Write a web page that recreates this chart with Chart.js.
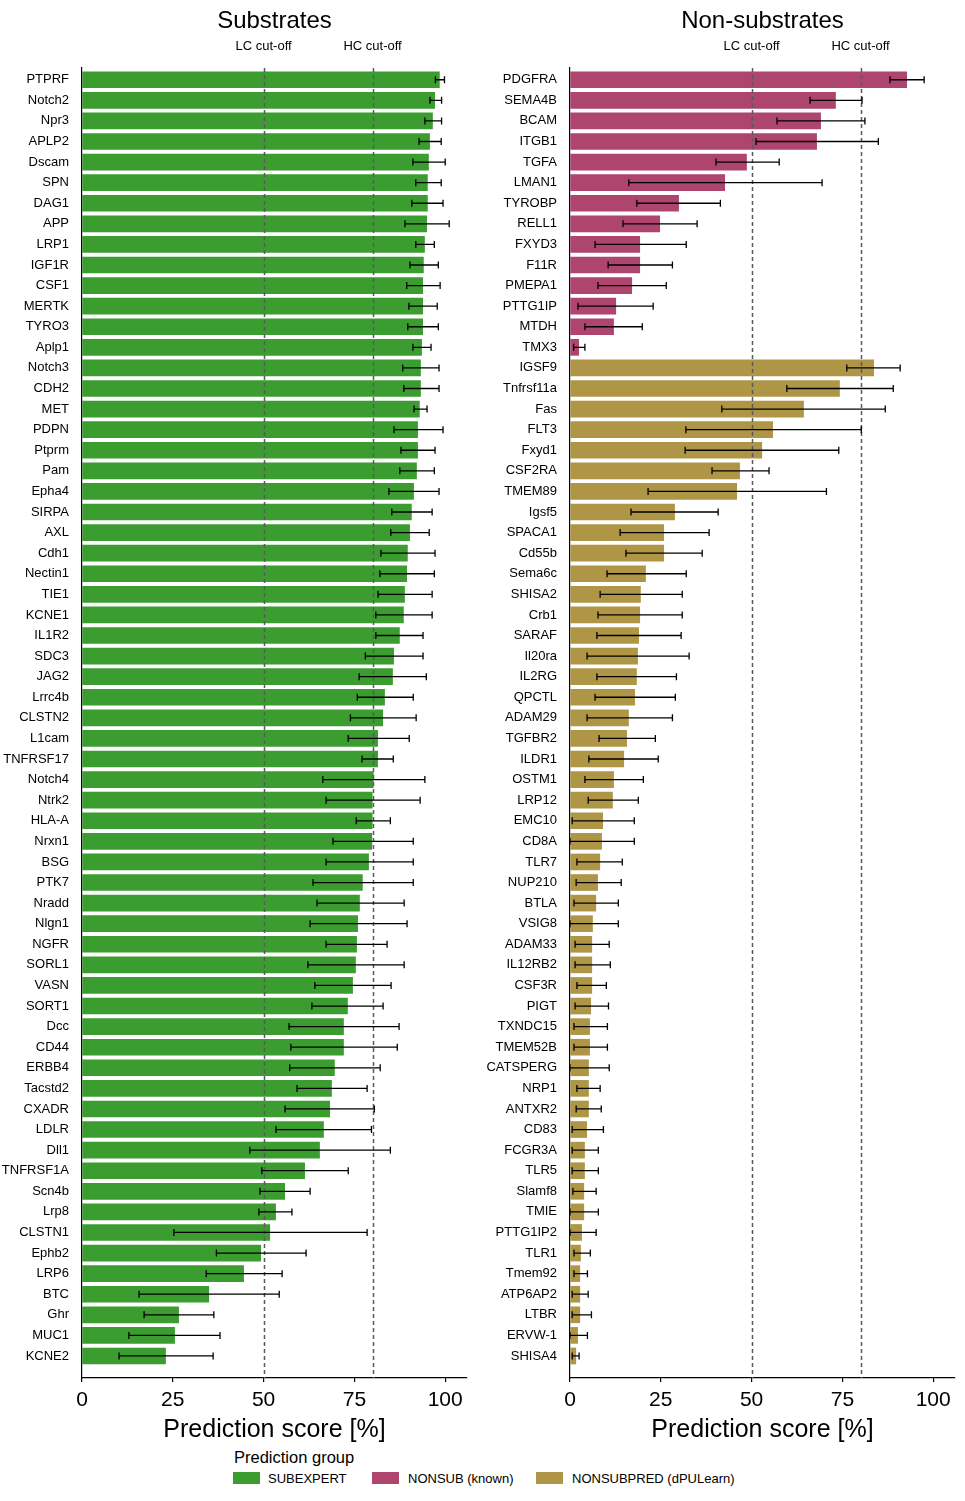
<!DOCTYPE html>
<html>
<head>
<meta charset="utf-8">
<script src="https://cdn.jsdelivr.net/npm/chart.js@4.4.1/dist/chart.umd.min.js"></script>
<style>
  html, body { margin: 0; padding: 0; background: #ffffff; }
  body { width: 965px; height: 1501px; position: relative; overflow: hidden;
         font-family: "Liberation Sans", Arial, sans-serif; color: #000; }
  canvas { position: absolute; top: 0; }
  #c1 { left: 0; }
  #c2 { left: 482px; }
  .lg { position: absolute; white-space: nowrap; line-height: 1; }
  .lgTitle { font-size: 16.5px; }
  .lgText { font-size: 13px; }
  .lgBox { position: absolute; width: 27px; height: 12px; }
</style>
</head>
<body>
<canvas id="c1" width="482" height="1446"></canvas>
<canvas id="c2" width="483" height="1446"></canvas>
<div id="legend"></div>
<script>
// ---------------- DATA ----------------
const subNames = ["PTPRF","Notch2","Npr3","APLP2","Dscam","SPN","DAG1","APP","LRP1","IGF1R",
  "CSF1","MERTK","TYRO3","Aplp1","Notch3","CDH2","MET","PDPN","Ptprm","Pam",
  "Epha4","SIRPA","AXL","Cdh1","Nectin1","TIE1","KCNE1","IL1R2","SDC3","JAG2",
  "Lrrc4b","CLSTN2","L1cam","TNFRSF17","Notch4","Ntrk2","HLA-A","Nrxn1","BSG","PTK7",
  "Nradd","Nlgn1","NGFR","SORL1","VASN","SORT1","Dcc","CD44","ERBB4","Tacstd2",
  "CXADR","LDLR","Dll1","TNFRSF1A","Scn4b","Lrp8","CLSTN1","Ephb2","LRP6","BTC",
  "Ghr","MUC1","KCNE2"];
const subScores = [98.4,97.1,96.5,95.7,95.4,95.1,95.1,94.9,94.3,94.0,
  93.8,93.8,93.8,93.5,93.2,93.2,92.9,92.4,92.4,92.1,
  91.3,90.7,90.2,89.6,89.4,88.8,88.5,87.4,85.8,85.5,
  83.3,82.8,81.4,81.4,80.2,79.9,79.9,79.8,78.9,77.2,
  76.4,75.9,75.6,75.3,74.5,73.1,72.0,72.0,69.5,68.7,
  68.2,66.5,65.4,61.3,55.8,53.3,51.7,49.2,44.5,34.9,
  26.6,25.5,23.0];
const subLow = [97.3,95.8,94.4,92.8,91.1,91.9,90.8,88.9,91.9,90.3,
  89.4,90.0,89.7,91.1,88.3,88.6,91.4,85.9,87.8,87.5,
  84.5,85.3,85.0,82.3,82.0,81.5,80.9,80.9,78.0,76.3,
  75.8,73.9,73.3,77.1,66.3,67.2,75.5,69.1,67.2,63.6,
  64.7,62.8,67.2,62.2,64.1,63.3,57.0,57.5,57.2,59.2,
  55.9,53.4,46.2,49.5,49.0,48.7,25.3,37.0,34.2,15.7,
  17.1,12.9,10.2];
const subHigh = [99.8,99.0,99.0,98.9,100.0,98.9,99.4,101.1,97.0,98.1,
  98.6,97.8,98.1,96.1,98.3,98.3,95.0,99.4,97.2,97.0,
  98.3,96.4,95.6,97.2,97.0,96.4,96.4,93.9,93.9,94.8,
  91.2,92.0,90.1,85.7,94.4,93.1,84.9,91.2,91.2,91.2,
  88.7,89.5,84.0,88.7,85.1,82.9,87.3,86.8,82.1,78.5,
  80.5,79.7,84.9,73.3,62.8,57.8,78.5,61.7,55.1,54.3,
  36.3,38.0,36.1];

const nonNames = ["PDGFRA","SEMA4B","BCAM","ITGB1","TGFA","LMAN1","TYROBP","RELL1","FXYD3","F11R",
  "PMEPA1","PTTG1IP","MTDH","TMX3","IGSF9","Tnfrsf11a","Fas","FLT3","Fxyd1","CSF2RA",
  "TMEM89","Igsf5","SPACA1","Cd55b","Sema6c","SHISA2","Crb1","SARAF","Il20ra","IL2RG",
  "QPCTL","ADAM29","TGFBR2","ILDR1","OSTM1","LRP12","EMC10","CD8A","TLR7","NUP210",
  "BTLA","VSIG8","ADAM33","IL12RB2","CSF3R","PIGT","TXNDC15","TMEM52B","CATSPERG","NRP1",
  "ANTXR2","CD83","FCGR3A","TLR5","Slamf8","TMIE","PTTG1IP2","TLR1","Tmem92","ATP6AP2",
  "LTBR","ERVW-1","SHISA4"];
const nonGroups = ["known","known","known","known","known","known","known","known","known","known",
  "known","known","known","known","pred","pred","pred","pred","pred","pred",
  "pred","pred","pred","pred","pred","pred","pred","pred","pred","pred",
  "pred","pred","pred","pred","pred","pred","pred","pred","pred","pred",
  "pred","pred","pred","pred","pred","pred","pred","pred","pred","pred",
  "pred","pred","pred","pred","pred","pred","pred","pred","pred","pred",
  "pred","pred","pred"];
const nonScores = [92.7,73.1,69.0,67.9,48.6,42.6,29.9,24.7,19.2,19.2,
  17.0,12.6,12.0,2.4,83.6,74.2,64.3,55.8,52.8,46.7,
  45.9,28.8,25.8,25.8,20.8,19.4,19.2,18.9,18.6,18.3,
  17.8,16.1,15.6,14.8,12.0,11.7,9.0,8.7,8.2,7.6,
  7.1,6.2,6.0,6.0,6.0,5.7,5.4,5.4,5.1,5.1,
  5.1,4.6,4.0,4.0,3.8,3.8,3.2,2.9,2.7,2.7,
  2.7,2.1,1.6];
const nonLow = [88.1,66.1,57.0,51.2,40.2,16.2,18.4,14.6,6.9,10.5,
  7.7,2.2,4.1,1.0,76.2,59.7,41.8,31.9,31.7,39.1,
  21.5,16.8,13.8,15.4,10.2,8.3,7.7,7.4,4.7,7.4,
  6.9,4.7,8.0,5.2,4.1,5.0,0.6,0.0,1.9,1.7,
  1.1,0.0,1.4,1.4,1.9,1.4,1.1,1.1,0.0,1.9,
  1.7,0.6,0.6,0.6,0.8,0.0,0.0,1.1,1.1,0.6,
  0.6,0.0,0.6];
const nonHigh = [97.5,80.4,81.2,84.9,57.6,69.4,41.4,35.0,32.0,28.2,
  26.5,22.9,19.9,4.1,90.9,89.0,86.8,80.2,74.0,54.8,
  70.6,40.8,38.3,36.4,32.0,30.9,30.9,30.6,32.8,29.3,
  29.0,28.2,23.5,24.3,20.2,18.8,17.7,17.7,14.4,14.1,
  13.3,13.3,10.8,11.1,10.0,10.6,10.3,10.3,10.8,8.3,
  8.6,9.2,7.8,7.8,7.2,7.8,7.2,5.6,4.8,5.0,
  5.9,4.8,2.5];

const xTickValues = [0, 25, 50, 75, 100];
const cutoffValues = [50, 80];
const cutoffLabels = ["LC cut-off", "HC cut-off"];
const groupLabels = { sub: "SUBEXPERT", known: "NONSUB (known)", pred: "NONSUBPRED (dPULearn)" };

// ---------------- STYLE ----------------
const FONT = '"Liberation Sans", Arial, sans-serif';
const groupColors = { sub: "#3b9c30", known: "#ad456f", pred: "#ae9646" };
Chart.defaults.font.family = FONT;
Chart.defaults.color = "#000";

const panelPlugin = {
  id: "panel",
  afterDatasetsDraw(chart) {
    const { ctx, chartArea: a, scales: { x, y } } = chart;
    ctx.save();
    // dashed cut-off lines
    ctx.strokeStyle = "#5a5a5a";
    ctx.lineWidth = 1.5;
    ctx.setLineDash([4, 3]);
    cutoffValues.forEach(v => {
      const px = Math.round(x.getPixelForValue(v)) + 0.5;
      ctx.beginPath(); ctx.moveTo(px, a.top); ctx.lineTo(px, a.bottom); ctx.stroke();
    });
    ctx.setLineDash([]);
    // error bars
    const ds = chart.data.datasets[0];
    ctx.strokeStyle = "#000";
    ctx.lineWidth = 1.3;
    ds.errLow.forEach((lo, i) => {
      const hi = ds.errHigh[i];
      const py = y.getPixelForValue(i);
      const x0 = x.getPixelForValue(lo), x1 = x.getPixelForValue(hi);
      ctx.beginPath();
      ctx.moveTo(x0, py); ctx.lineTo(x1, py);
      ctx.moveTo(x0, py - 3.5); ctx.lineTo(x0, py + 3.5);
      ctx.moveTo(x1, py - 3.5); ctx.lineTo(x1, py + 3.5);
      ctx.stroke();
    });
    ctx.restore();
  },
  afterDraw(chart, args, opts) {
    const { ctx, chartArea: a, scales: { x } } = chart;
    ctx.save();
    ctx.fillStyle = "#000";
    ctx.textAlign = "center";
    ctx.textBaseline = "alphabetic";
    ctx.font = "24px " + FONT;
    ctx.fillText(opts.title, (a.left + a.right) / 2, 28);
    ctx.font = "13px " + FONT;
    cutoffValues.forEach((v, i) => {
      ctx.fillText(cutoffLabels[i], x.getPixelForValue(v), 49.5);
    });
    ctx.restore();
  }
};

function makePanel(canvasId, title, names, scores, lows, highs, colors, axisWidth, padRight) {
  return new Chart(document.getElementById(canvasId), {
    type: "bar",
    plugins: [panelPlugin],
    data: {
      datasets: [{
        data: scores.map((v, i) => ({ x: v, y: i })),
        backgroundColor: colors,
        borderWidth: 0,
        barThickness: 16,
        errLow: lows,
        errHigh: highs
      }]
    },
    options: {
      indexAxis: "y",
      responsive: false,
      animation: false,
      devicePixelRatio: 1,
      layout: { padding: { top: 68, right: padRight, left: 0, bottom: 0 } },
      plugins: { legend: { display: false }, tooltip: { enabled: false }, panel: { title: title } },
      scales: {
        x: {
          type: "linear", min: 0, max: 106, bounds: "data", offset: false,
          afterBuildTicks: s => { s.ticks = xTickValues.map(v => ({ value: v })); },
          afterFit: s => { s.height = 68; },
          grid: { display: true, drawOnChartArea: false, drawTicks: true, tickLength: 4, color: "#000", lineWidth: 1.2 },
          border: { display: true, color: "#000", width: 1.2 },
          ticks: { font: { size: 21 }, color: "#000", padding: 6, maxRotation: 0 },
          title: { display: true, text: "Prediction score [%]", font: { size: 25 }, color: "#000", padding: { top: 0, bottom: 1 } }
        },
        y: {
          type: "linear", reverse: true, bounds: "data", offset: false,
          min: -0.57, max: names.length - 1 + 1.07,
          afterBuildTicks: s => { s.ticks = names.map((_, i) => ({ value: i })); },
          afterFit: s => { s.width = axisWidth; },
          grid: { display: false, offset: false },
          border: { display: true, color: "#000", width: 1.2 },
          ticks: { font: { size: 13 }, color: "#000", padding: 5, autoSkip: false,
                   callback: v => names[v] }
        }
      }
    }
  });
}

makePanel("c1", "Substrates", subNames, subScores, subLow, subHigh,
  subNames.map(() => groupColors.sub), 82, 15);
makePanel("c2", "Non-substrates", nonNames, nonScores, nonLow, nonHigh,
  nonGroups.map(g => groupColors[g]), 88, 10);

// ---------------- LEGEND (HTML) ----------------
const lg = document.getElementById("legend");
function addDiv(cls, text, left, top, extraStyle) {
  const d = document.createElement("div");
  d.className = cls;
  if (text) d.textContent = text;
  d.style.left = left + "px"; d.style.top = top + "px";
  if (extraStyle) Object.assign(d.style, extraStyle);
  lg.appendChild(d);
}
addDiv("lg lgTitle", "Prediction group", 234, 1448.5);
const legendItems = [
  { key: "sub", box: 233, text: 268 },
  { key: "known", box: 372, text: 408 },
  { key: "pred", box: 536, text: 572 }
];
legendItems.forEach(it => {
  addDiv("lgBox", "", it.box, 1472, { background: groupColors[it.key] });
  addDiv("lg lgText", groupLabels[it.key], it.text, 1471.7);
});
</script>
</body>
</html>
